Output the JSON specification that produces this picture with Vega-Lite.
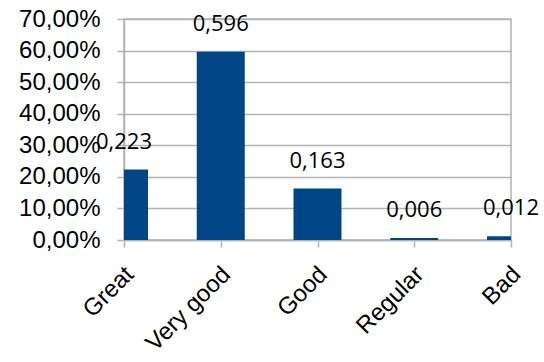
{
  "$schema": "https://vega.github.io/schema/vega-lite/v6.json",
  "width": 387,
  "height": 221,
  "autosize": {"type": "none"},
  "padding": {"left": 124, "top": 19, "right": 33, "bottom": 122},
  "background": "white",
  "config": {
    "locale": {"number": {"decimal": ",", "thousands": ".", "grouping": [3], "currency": ["", " €"]}},
    "view": {"stroke": "#b3b3b3", "strokeWidth": 1.5},
    "axis": {"domainColor": "#b3b3b3", "tickColor": "#b3b3b3", "gridColor": "#b3b3b3", "domainWidth": 1.5, "tickWidth": 1.5, "gridWidth": 1.5, "labelColor": "#000000", "labelFont": "Liberation Sans", "tickSize": 7}
  },
  "data": {"values": [
    {"category": "Great", "value": 0.223},
    {"category": "Very good", "value": 0.596},
    {"category": "Good", "value": 0.163},
    {"category": "Regular", "value": 0.006},
    {"category": "Bad", "value": 0.012}
  ]},
  "encoding": {
    "x": {"field": "category", "type": "nominal", "sort": null,
      "scale": {"type": "point", "padding": 0},
      "axis": {"title": null, "labelAngle": -45, "labelAlign": "right", "labelBaseline": "top", "labelPadding": 15, "labelOffset": -3, "labelFontSize": 24, "grid": false}},
    "y": {"field": "value", "type": "quantitative",
      "scale": {"domain": [0, 0.7], "nice": false},
      "axis": {"title": null, "values": [0, 0.1, 0.2, 0.3, 0.4, 0.5, 0.6, 0.7], "format": ".2%", "labelPadding": 17, "labelFontSize": 24, "grid": true}}
  },
  "layer": [
    {"mark": {"type": "bar", "size": 48, "color": "#004586", "clip": true}},
    {"mark": {"type": "text", "font": "Open Sans", "fontSize": 22, "baseline": "bottom", "dy": -16, "color": "#000000"},
      "encoding": {"text": {"field": "value", "type": "quantitative", "format": ".3f"}}}
  ]
}
